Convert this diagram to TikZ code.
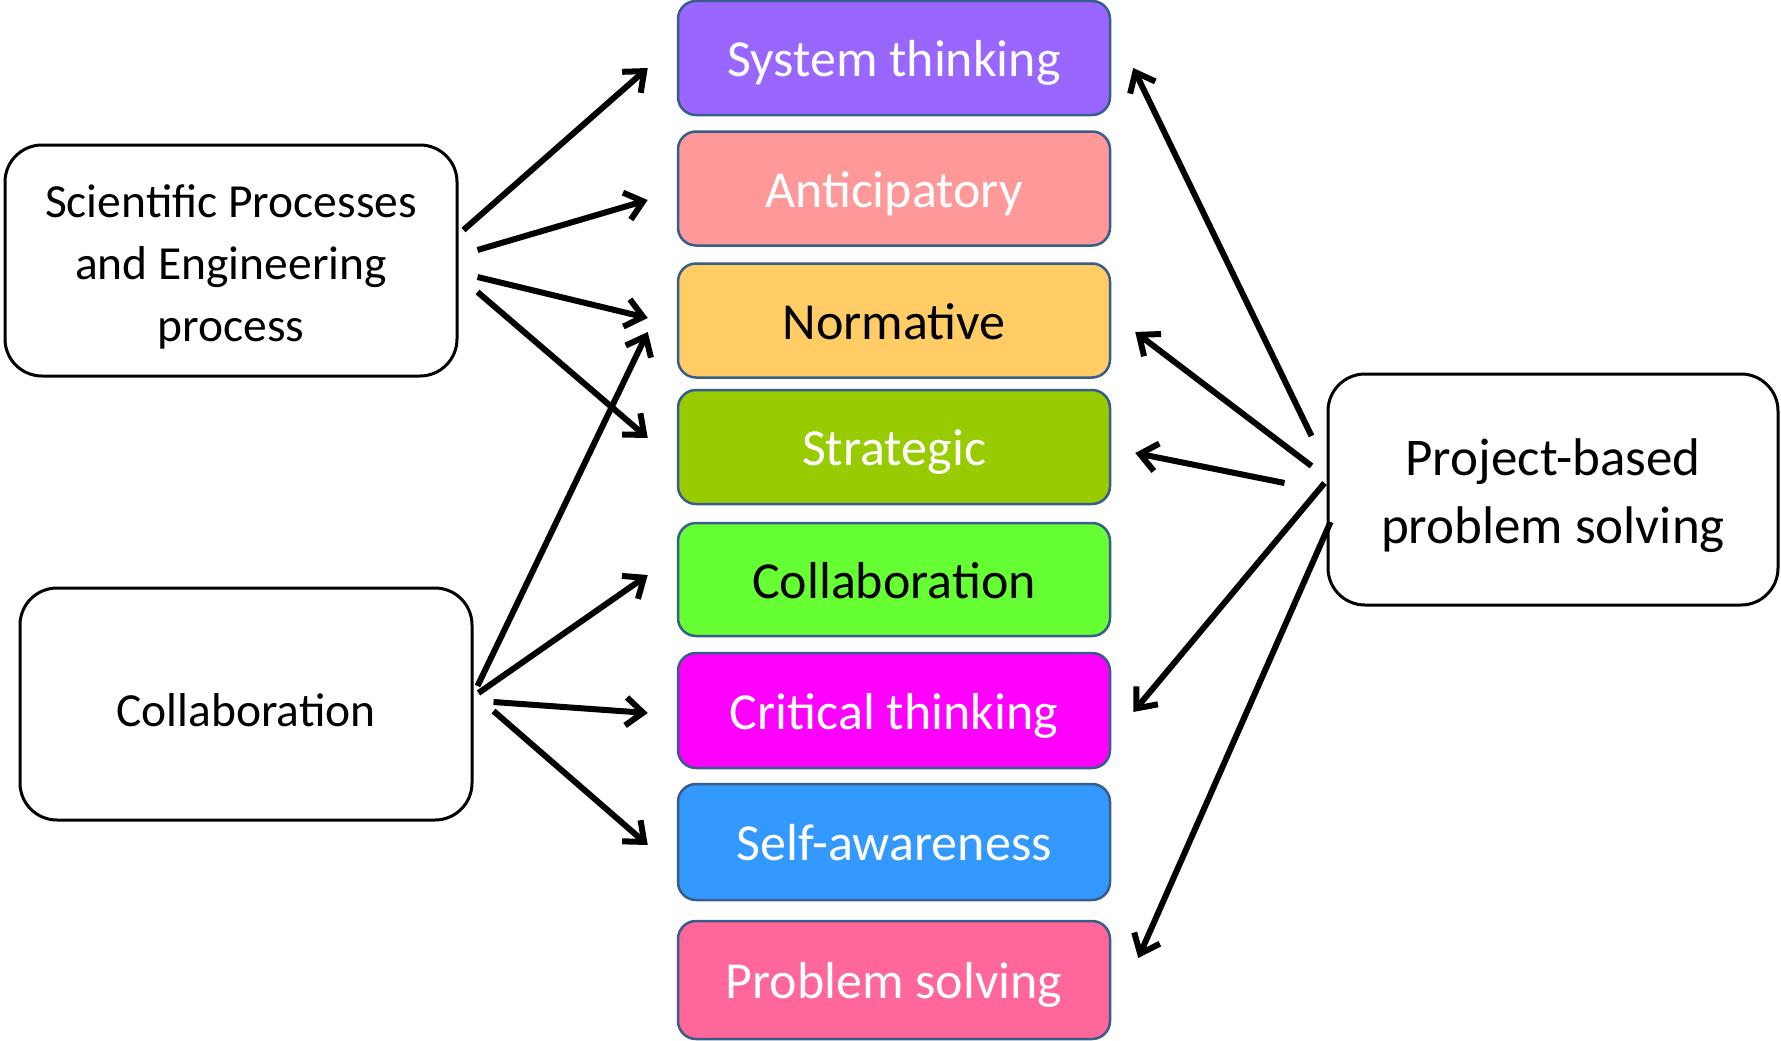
\documentclass[tikz,border=0pt]{standalone}
\usepackage{fontspec}
\setmainfont{Carlito}
\usetikzlibrary{arrows.meta,calc}
\definecolor{cbord}{HTML}{385D8A}
\definecolor{c1}{HTML}{9966FF}
\definecolor{c2}{HTML}{FF9999}
\definecolor{c3}{HTML}{FFCC66}
\definecolor{c4}{HTML}{99CC00}
\definecolor{c5}{HTML}{66FF33}
\definecolor{c6}{HTML}{FF00FF}
\definecolor{c7}{HTML}{3399FF}
\definecolor{c8}{HTML}{FF6699}
\newcommand\lowertxt[1]{\raisebox{-6pt}[\height][\depth]{#1}}
\begin{document}
\begin{tikzpicture}[x=1pt,y=-1pt,
  comp/.style={draw=cbord, line width=2.5pt, rounded corners=18pt, minimum width=432pt,
    inner sep=0pt, text height=37pt, text depth=0pt, font=\fontsize{52}{62}\selectfont},
  srcbox/.style={draw=black, line width=3pt, rounded corners=37pt, fill=white, inner sep=0pt,
    align=center},
  arr/.style={line width=6pt, -{Straight Barb[length=17pt,width=28pt]}}]
\useasboundingbox (0,0) rectangle (1781,1041);
% competency boxes
\node[comp, fill=c1, text=white, minimum height=114pt] (sys) at (894,58) {System thinking};
\node[comp, fill=c2, text=white, minimum height=114pt] (ant) at (894,188.5) {Anticipatory};
\node[comp, fill=c3, text=black, minimum height=114pt] (nor) at (894,320.5) {Normative};
\node[comp, fill=c4, text=white, minimum height=114pt] (str) at (894,447) {Strategic};
\node[comp, fill=c5, text=black, minimum height=113pt] (col) at (894,579.5) {Collaboration};
\node[comp, fill=c6, text=white, minimum height=115pt] (cri) at (894,710.5) {Critical thinking};
\node[comp, fill=c7, text=white, minimum height=116pt] (sel) at (894,842) {Self-awareness};
\node[comp, fill=c8, text=white, minimum height=118pt] (pro) at (894,980) {Problem solving};
% source boxes
\node[srcbox, minimum width=452pt, minimum height=231pt, font=\fontsize{47.5}{62}\selectfont]
  (sci) at (231,260.5) {\lowertxt{Scientific Processes}\\\lowertxt{and Engineering}\\\lowertxt{process}};
\node[srcbox, minimum width=452pt, minimum height=232pt, font=\fontsize{47.5}{62}\selectfont]
  (cls) at (246,704) {\lowertxt{Collaboration}};
\node[srcbox, minimum width=450pt, minimum height=231pt, font=\fontsize{53}{68}\selectfont]
  (pbl) at (1553,489.5) {\lowertxt{Project-based}\\\lowertxt{problem solving}};
% arrows from Scientific Processes
\draw[arr] ($(sci.east)+(5,-30.5)$) -- ($(sys.west)+(-29,10)$);
\draw[arr] ($(sci.east)+(19,-10.5)$) -- ($(ant.west)+(-29,11.5)$);
\draw[arr] ($(sci.east)+(19,16.5)$) -- ($(nor.west)+(-29,-2.5)$);
\draw[arr] ($(sci.east)+(19,31.5)$) -- ($(str.west)+(-29,-9)$);
% arrows from Collaboration
\draw[arr] ($(cls.east)+(4,-18)$) -- ($(nor.west)+(-29,11.5)$);
\draw[arr] ($(cls.east)+(5,-11)$) -- ($(col.west)+(-29,-4.5)$);
\draw[arr] ($(cls.east)+(20,-2)$) -- ($(cri.west)+(-29,2.5)$);
\draw[arr] ($(cls.east)+(20,7)$) -- ($(sel.west)+(-29,3)$);
% arrows from Project-based problem solving
\draw[arr] ($(pbl.west)+(-15,-53.5)$) -- ($(sys.east)+(22,10)$);
\draw[arr] ($(pbl.west)+(-15,-23.5)$) -- ($(nor.east)+(24,11.5)$);
\draw[arr] ($(pbl.west)+(-42,-6.5)$) -- ($(str.east)+(24,6)$);
\draw[arr] ($(pbl.west)+(-2,-6.5)$) -- ($(cri.east)+(22,1.5)$);
\draw[arr] ($(pbl.west)+(4,32.5)$) -- ($(pro.east)+(27,-22)$);
\end{tikzpicture}
\end{document}
